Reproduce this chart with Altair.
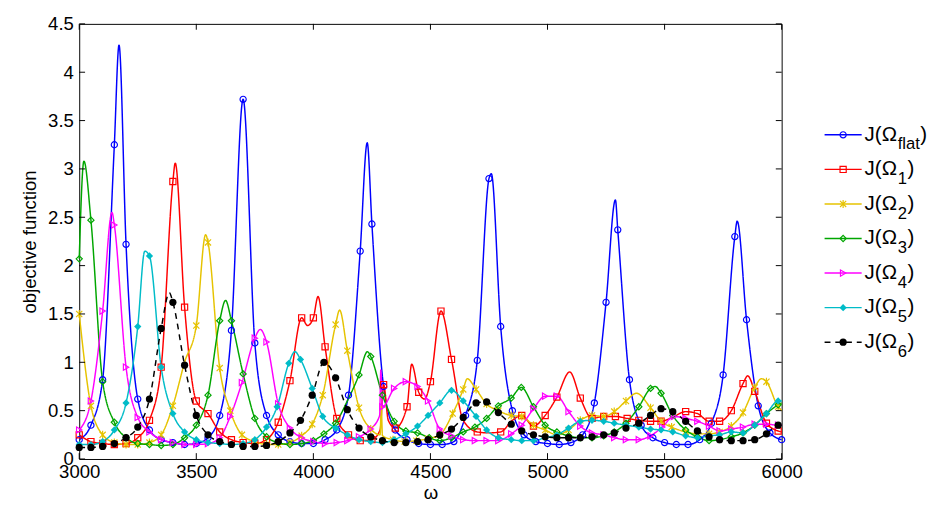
import altair as alt
import pandas as pd

# (omega, J, is_marker)
flat = [
    (3000, .20, 1), (3050, .35, 1), (3100, .82, 1), (3150, 3.25, 1), (3170, 4.28, 0), (3200, 2.22, 1),
    (3250, .62, 1), (3300, .30, 1), (3350, .20, 1), (3400, .17, 1), (3450, .15, 1), (3500, .16, 1),
    (3550, .22, 1), (3600, .45, 1), (3650, 1.33, 1), (3700, 3.72, 1), (3750, 1.20, 1), (3800, .45, 1),
    (3850, .25, 1), (3900, .18, 1), (3950, .16, 1), (4000, .16, 1), (4050, .20, 1), (4100, .30, 1),
    (4150, .66, 1), (4200, 2.15, 1), (4230, 3.27, 0), (4250, 2.43, 1), (4300, .75, 1), (4350, .30, 1),
    (4400, .20, 1), (4450, .16, 1), (4500, .15, 1), (4550, .15, 1), (4600, .18, 1), (4650, .45, 1),
    (4700, 1.02, 1), (4750, 2.90, 1), (4760, 2.95, 0), (4800, 1.37, 1), (4850, .50, 1), (4900, .25, 1),
    (4950, .18, 1), (5000, .16, 1), (5050, .15, 1), (5100, .17, 1), (5150, .25, 1), (5200, .58, 1),
    (5250, 1.62, 1), (5290, 2.68, 0), (5300, 2.37, 1), (5350, .82, 1), (5400, .35, 1), (5450, .22, 1),
    (5500, .17, 1), (5550, .15, 1), (5600, .15, 1), (5650, .20, 1), (5700, .37, 1), (5750, .87, 1),
    (5800, 2.30, 1), (5810, 2.46, 0), (5850, 1.44, 1), (5900, .55, 1), (5950, .27, 1), (6000, .20, 1),
]
om1 = [
    (3000, .25, 1), (3050, .18, 1), (3100, .16, 1), (3150, .15, 1), (3200, .16, 1), (3250, .22, 1),
    (3300, .40, 1), (3350, .95, 1), (3400, 2.87, 1), (3410, 3.06, 0), (3450, 1.57, 1), (3500, .60, 1),
    (3550, .47, 1), (3600, .28, 1), (3650, .20, 1), (3700, .17, 1), (3750, .16, 1), (3800, .20, 1),
    (3850, .38, 1), (3900, .81, 1), (3950, 1.46, 1), (3975, 1.38, 0), (4000, 1.46, 1), (4020, 1.68, 0),
    (4050, 1.16, 1), (4100, .42, 1), (4150, .25, 1), (4200, .19, 1), (4250, .20, 1), (4285, .30, 0),
    (4300, .77, 1), (4320, .40, 0), (4350, .32, 1), (4400, .54, 1), (4420, .98, 0), (4450, .69, 1),
    (4475, .62, 0), (4500, .80, 1), (4545, 1.53, 1), (4590, 1.03, 1), (4640, .40, 0), (4700, .28, 1),
    (4750, .27, 0), (4800, .28, 1), (4850, .40, 0), (4890, .45, 1), (4940, .34, 1), (4990, .45, 1),
    (5040, .64, 1), (5095, .90, 0), (5140, .63, 1), (5190, .42, 1), (5240, .44, 1), (5290, .44, 1),
    (5340, .42, 1), (5390, .40, 1), (5440, .39, 1), (5485, .39, 1), (5540, .44, 0), (5590, .49, 1),
    (5640, .47, 1), (5690, .39, 1), (5735, .39, 1), (5785, .50, 1), (5835, .78, 1), (5855, .86, 0),
    (5885, .70, 1), (5935, .37, 1), (5985, .29, 1), (6000, .28, 0),
]
om2 = [
    (3000, 1.50, 1), (3050, .55, 1), (3100, .25, 1), (3150, .17, 1), (3200, .15, 1), (3250, .15, 1),
    (3300, .17, 1), (3350, .25, 1), (3400, .55, 1), (3450, 1.00, 0), (3500, 1.38, 1), (3540, 2.32, 0),
    (3550, 2.24, 1), (3600, .94, 1), (3645, .50, 1), (3695, .25, 1), (3750, .18, 1), (3800, .15, 1),
    (3850, .15, 1), (3900, .17, 1), (3950, .24, 1), (3995, .36, 1), (4040, .66, 1), (4095, 1.39, 1),
    (4112, 1.54, 0), (4145, 1.12, 1), (4195, .53, 1), (4245, .31, 1), (4285, .25, 0), (4290, .55, 0),
    (4295, .24, 0), (4340, .20, 1), (4390, .18, 1), (4440, .19, 1), (4490, .21, 1), (4540, .25, 1),
    (4595, .47, 1), (4640, .72, 1), (4657, .83, 0), (4695, .72, 1), (4740, .57, 1), (4790, .50, 1),
    (4845, .45, 1), (4890, .44, 1), (4940, .35, 1), (4990, .30, 1), (5040, .25, 1), (5090, .30, 1),
    (5140, .40, 1), (5190, .45, 1), (5240, .44, 1), (5285, .49, 1), (5335, .60, 1), (5380, .68, 0),
    (5440, .53, 1), (5485, .39, 1), (5530, .33, 1), (5590, .28, 1), (5640, .26, 1), (5690, .26, 1),
    (5735, .28, 1), (5785, .34, 1), (5835, .48, 1), (5885, .74, 1), (5913, .83, 0), (5935, .80, 1),
    (5985, .54, 1), (6000, .50, 0),
]
om3 = [
    (3000, 2.07, 1), (3020, 3.08, 0), (3050, 2.47, 1), (3100, .80, 1), (3150, .38, 1), (3200, .22, 1),
    (3250, .16, 1), (3300, .15, 1), (3350, .14, 1), (3400, .15, 1), (3450, .22, 1), (3500, .35, 1),
    (3550, .66, 1), (3600, 1.43, 1), (3625, 1.64, 0), (3650, 1.43, 1), (3700, .88, 1), (3750, .42, 1),
    (3800, .23, 1), (3850, .17, 1), (3900, .15, 1), (3950, .16, 1), (4000, .19, 1), (4045, .26, 1),
    (4095, .37, 1), (4145, .60, 0), (4195, .87, 1), (4231, 1.11, 0), (4245, 1.06, 1), (4295, .66, 1),
    (4345, .39, 1), (4395, .29, 1), (4445, .27, 1), (4495, .22, 1), (4540, .19, 1), (4590, .22, 1),
    (4640, .28, 1), (4690, .33, 1), (4740, .42, 1), (4790, .55, 1), (4845, .63, 1), (4888, .74, 1),
    (4940, .54, 1), (4990, .35, 1), (5040, .28, 1), (5090, .24, 1), (5140, .22, 1), (5190, .22, 1),
    (5240, .24, 1), (5285, .28, 1), (5335, .37, 1), (5390, .54, 1), (5440, .73, 1), (5460, .75, 0),
    (5485, .68, 1), (5535, .45, 1), (5590, .30, 1), (5640, .23, 1), (5690, .19, 1), (5735, .20, 1),
    (5785, .23, 1), (5835, .27, 1), (5885, .35, 1), (5935, .47, 1), (5985, .56, 1), (6000, .58, 0),
]
om4 = [
    (3000, .30, 1), (3050, .60, 1), (3100, 1.53, 1), (3140, 2.55, 0), (3150, 2.42, 1), (3200, .95, 1),
    (3250, .43, 1), (3300, .28, 1), (3350, .20, 1), (3400, .17, 1), (3450, .15, 1), (3500, .15, 1),
    (3550, .16, 1), (3600, .22, 1), (3645, .44, 1), (3695, .79, 1), (3750, 1.25, 1), (3773, 1.34, 0),
    (3800, 1.21, 1), (3850, .57, 1), (3900, .32, 1), (3950, .22, 1), (4000, .18, 1), (4050, .16, 1),
    (4100, .17, 1), (4145, .19, 1), (4195, .23, 1), (4245, .31, 1), (4283, .45, 0), (4288, .92, 0),
    (4295, .54, 1), (4345, .73, 1), (4395, .80, 1), (4445, .75, 1), (4490, .60, 1), (4540, .31, 1),
    (4590, .24, 1), (4640, .20, 1), (4690, .19, 1), (4740, .19, 1), (4790, .19, 1), (4845, .26, 1),
    (4890, .35, 1), (4940, .52, 1), (4990, .65, 1), (5040, .65, 1), (5090, .49, 1), (5140, .34, 1),
    (5190, .27, 1), (5240, .25, 1), (5285, .22, 1), (5335, .20, 1), (5390, .20, 1), (5440, .24, 1),
    (5490, .33, 1), (5540, .44, 1), (5590, .42, 1), (5640, .39, 1), (5690, .34, 1), (5735, .29, 1),
    (5785, .31, 1), (5835, .33, 1), (5885, .36, 1), (5935, .36, 1), (5985, .35, 1), (6000, .35, 0),
]
om5 = [
    (3000, .15, 1), (3050, .15, 1), (3100, .18, 1), (3150, .30, 1), (3200, .58, 1), (3250, 1.37, 1),
    (3280, 2.15, 0), (3300, 2.10, 1), (3350, .95, 1), (3400, .47, 1), (3450, .28, 1), (3500, .20, 1),
    (3550, .17, 1), (3600, .16, 1), (3650, .15, 1), (3700, .16, 1), (3750, .20, 1), (3800, .33, 1),
    (3845, .54, 1), (3895, .99, 1), (3921, 1.11, 0), (3945, 1.03, 1), (3995, .73, 1), (4040, .44, 1),
    (4095, .32, 1), (4145, .25, 1), (4195, .20, 1), (4245, .18, 1), (4295, .17, 1), (4345, .20, 1),
    (4395, .26, 1), (4445, .34, 1), (4490, .45, 1), (4540, .58, 1), (4590, .71, 1), (4640, .60, 1),
    (4695, .44, 1), (4740, .30, 1), (4790, .22, 1), (4845, .20, 1), (4890, .19, 1), (4940, .19, 1),
    (4990, .22, 1), (5040, .25, 1), (5090, .32, 1), (5140, .39, 1), (5190, .40, 1), (5240, .39, 1),
    (5285, .37, 1), (5335, .35, 1), (5390, .33, 1), (5440, .31, 1), (5485, .30, 1), (5535, .28, 1),
    (5590, .24, 1), (5640, .22, 1), (5690, .24, 1), (5735, .25, 1), (5785, .28, 1), (5835, .27, 1),
    (5885, .35, 1), (5935, .47, 1), (5985, .60, 1), (6000, .60, 0),
]
om6 = [
    (3000, .12, 1), (3050, .12, 1), (3100, .13, 1), (3150, .16, 1), (3200, .22, 1), (3250, .33, 1),
    (3300, .62, 1), (3350, 1.35, 1), (3385, 1.72, 0), (3400, 1.62, 1), (3450, .97, 1), (3500, .45, 1),
    (3550, .25, 1), (3600, .18, 1), (3650, .15, 1), (3700, .13, 1), (3750, .13, 1), (3800, .14, 1),
    (3850, .18, 1), (3900, .27, 1), (3945, .40, 1), (3995, .66, 1), (4045, 1.00, 1), (4095, .84, 1),
    (4145, .51, 1), (4195, .32, 1), (4245, .23, 1), (4295, .19, 1), (4345, .17, 1), (4395, .17, 1),
    (4445, .18, 1), (4490, .20, 1), (4540, .25, 1), (4590, .31, 1), (4640, .43, 1), (4695, .58, 1),
    (4740, .59, 1), (4790, .48, 1), (4845, .36, 1), (4890, .29, 1), (4940, .25, 1), (4990, .23, 1),
    (5040, .22, 1), (5090, .22, 1), (5140, .22, 1), (5190, .23, 1), (5240, .25, 1), (5285, .27, 1),
    (5335, .32, 1), (5390, .37, 1), (5440, .45, 1), (5485, .52, 1), (5535, .49, 1), (5590, .39, 1),
    (5640, .29, 1), (5690, .23, 1), (5735, .20, 1), (5785, .19, 1), (5835, .19, 1), (5885, .20, 1),
    (5935, .26, 1), (5985, .35, 1), (6000, .35, 0),
]

series_names = ["flat", "1", "2", "3", "4", "5", "6"]
series_data = [flat, om1, om2, om3, om4, om5, om6]
colors = ["#0000ff", "#ff0000", "#e6c300", "#00a600", "#ff00ff", "#00bcc8", "#000000"]
asterisk = "M-1,-1L1,1M-1,1L1,-1M0,-1.3L0,1.3"
shapes = ["circle", "square", asterisk, "diamond", "triangle-right", "diamond", "circle"]
open_series = ["flat", "1", "2", "3", "4"]
filled_series = ["5", "6"]
x_ticks = [3000, 3500, 4000, 4500, 5000, 5500, 6000]
y_ticks = [0, 0.5, 1, 1.5, 2, 2.5, 3, 3.5, 4, 4.5]

FONT = "Liberation Sans"
W, H = 720, 446

rows = []
for name, pts in zip(series_names, series_data):
    for x, y, m in pts:
        rows.append({"series": name, "omega": x, "J": y, "marker": m})
df = pd.DataFrame(rows)

color = alt.Color("series:N", scale=alt.Scale(domain=series_names, range=colors), legend=None)
shape = alt.Shape("series:N", scale=alt.Scale(domain=series_names, range=shapes), legend=None)
dash = alt.StrokeDash(
    "series:N",
    scale=alt.Scale(domain=series_names, range=[[1, 0]] * 6 + [[6, 5]]),
    legend=None,
)
xs = alt.Scale(domain=[3000, 6000], nice=False, padding=0, zero=False)
ys = alt.Scale(domain=[0, 4.5], nice=False, padding=0)

x_enc = alt.X("omega:Q", scale=xs, title="ω",
              axis=alt.Axis(values=x_ticks, format="d", domain=False, ticks=False, grid=False,
                            labelFlush=False, labelPadding=4, titlePadding=3))
y_enc = alt.Y("J:Q", scale=ys, title="objective function",
              axis=alt.Axis(values=y_ticks, format="~g", domain=False, ticks=False, grid=False,
                            labelFlush=False, labelPadding=6, titlePadding=8))

base = alt.Chart(df)
lines = base.mark_line(interpolate="monotone", strokeWidth=1.5).encode(
    x=x_enc, y=y_enc, color=color, strokeDash=dash, detail="series:N"
)
mk = base.transform_filter("datum.marker == 1")
open_pts = mk.transform_filter(alt.FieldOneOfPredicate(field="series", oneOf=open_series)) \
    .mark_point(filled=False, size=40, strokeWidth=1.2, opacity=1).encode(
        x="omega:Q", y="J:Q", color=color, shape=shape)
full_pts = mk.transform_filter(alt.FieldOneOfPredicate(field="series", oneOf=filled_series)) \
    .mark_point(filled=True, size=55, opacity=1).encode(
        x="omega:Q", y="J:Q", color=color, shape=shape)

xt = alt.Chart(pd.DataFrame({"omega": x_ticks}))
yt = alt.Chart(pd.DataFrame({"J": y_ticks}))
tick_style = dict(color="black", strokeWidth=1)
ticks = alt.layer(
    xt.mark_rule(**tick_style).encode(x="omega:Q", y=alt.value(H), y2=alt.value(H - 6)),
    xt.mark_rule(**tick_style).encode(x="omega:Q", y=alt.value(0), y2=alt.value(6)),
    yt.mark_rule(**tick_style).encode(y="J:Q", x=alt.value(0), x2=alt.value(6)),
    yt.mark_rule(**tick_style).encode(y="J:Q", x=alt.value(W), x2=alt.value(W - 6)),
)

main = alt.layer(lines, open_pts, full_pts, ticks).properties(
    width=W, height=H, view=alt.ViewConfig(stroke="black", strokeWidth=1))

# legend panel
leg = pd.DataFrame({"series": series_names, "sub": series_names})
leg["close"] = [98 if s == "flat" else 85 for s in series_names]
ly = alt.Y("series:N", scale=alt.Scale(domain=series_names, range=[96, 344]), axis=None)
lb = alt.Chart(leg)
leg_line = lb.mark_rule(strokeWidth=1.5).encode(
    y=ly, x=alt.value(0), x2=alt.value(38), color=color, strokeDash=dash)
leg_open = lb.transform_filter(alt.FieldOneOfPredicate(field="series", oneOf=open_series)) \
    .mark_point(filled=False, size=40, strokeWidth=1.2, opacity=1).encode(
        y=ly, x=alt.value(19), color=color, shape=shape)
leg_full = lb.transform_filter(alt.FieldOneOfPredicate(field="series", oneOf=filled_series)) \
    .mark_point(filled=True, size=55, opacity=1).encode(
        y=ly, x=alt.value(19), color=color, shape=shape)
leg_main = lb.mark_text(align="left", baseline="middle", font=FONT, fontSize=21, x=41).encode(
    y=ly, text=alt.value("J(Ω"))
leg_sub = lb.mark_text(align="left", baseline="middle", font=FONT, fontSize=17, x=75, dy=10).encode(
    y=ly, text="sub:N")
leg_close = lb.mark_text(align="left", baseline="middle", font=FONT, fontSize=21).encode(
    y=ly, x=alt.X("close:Q", scale=None), text=alt.value(")"))
legend = alt.layer(leg_line, leg_open, leg_full, leg_main, leg_sub, leg_close).properties(
    width=95, height=H, view=alt.ViewConfig(stroke="transparent"))

chart = alt.hconcat(main, legend, spacing=20).configure_axis(
    labelFont=FONT, titleFont=FONT, labelFontSize=19, titleFontSize=19,
    labelColor="black", titleColor="black", titleFontWeight="normal",
).properties(padding={"left": 13, "top": 0, "right": 0, "bottom": 0})

chart.save("out.html", embed_options={"renderer": "svg", "actions": False})
